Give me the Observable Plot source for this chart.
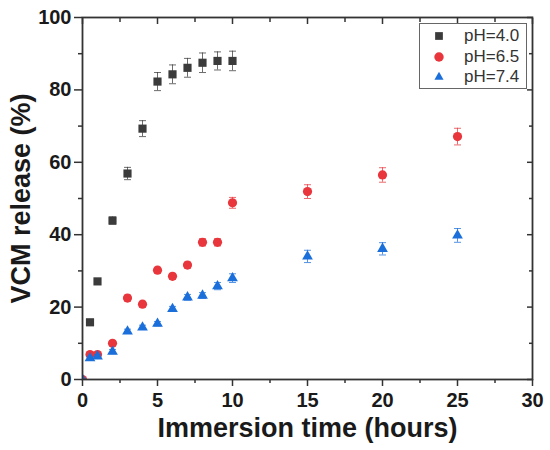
<!DOCTYPE html>
<html>
<head>
<meta charset="utf-8">
<script src="https://cdn.jsdelivr.net/npm/d3@7"></script>
<script src="https://cdn.jsdelivr.net/npm/@observablehq/plot@0.6"></script>
<style>
  body { margin: 0; background: #fff; }
  #wrap { position: relative; width: 550px; height: 450px; font-family: "Liberation Sans", Arial, sans-serif; }
  #legend { position: absolute; left: 419px; top: 23px; width: 108px; height: 66px; border: 1px solid #666; background: #fff; box-sizing: border-box; }
  .row { position: absolute; left: 0; height: 22px; display: flex; align-items: center; font-size: 17px; color: #333; }
  .row svg { margin-left: 12px; margin-right: 18px; }
</style>
</head>
<body>
<div id="wrap"><div id="legend"></div></div>
<script>
// ---- data ----
const seriesNames = ["pH=4.0", "pH=6.5", "pH=7.4"];
const seriesColors = ["#3b3b3b", "#e8363c", "#1b6fdb"];
const seriesSymbols = ["square", "circle", "triangle"];

const time40 = [0.5, 1, 2, 3, 4, 5, 6, 7, 8, 9, 10];
const val40  = [15.8, 27.1, 43.9, 56.9, 69.3, 82.3, 84.3, 86.1, 87.5, 88.0, 88.0];
const err40  = [0.8, 0.8, 1.0, 1.7, 2.2, 2.5, 2.6, 2.6, 2.7, 2.5, 2.7];

const time65 = [0, 0.5, 1, 2, 3, 4, 5, 6, 7, 8, 9, 10, 15, 20, 25];
const val65  = [0, 6.9, 6.9, 10.0, 22.5, 20.8, 30.2, 28.5, 31.6, 37.9, 37.9, 48.8, 51.9, 56.5, 67.1];
const err65  = [0, 0.6, 0.6, 0.7, 0.8, 0.8, 0.8, 0.8, 0.8, 1.0, 1.0, 1.5, 1.9, 2.0, 2.3];

const time74 = [0, 0.5, 1, 2, 3, 4, 5, 6, 7, 8, 9, 10, 15, 20, 25];
const val74  = [0, 5.9, 6.4, 7.7, 13.3, 14.4, 15.4, 19.5, 22.7, 23.2, 25.8, 28.0, 34.0, 36.1, 39.8];
const err74  = [0, 0.5, 0.5, 0.6, 0.6, 0.6, 0.6, 0.7, 0.8, 0.8, 1.0, 1.2, 1.7, 1.7, 1.9];

const xTicks = [0, 5, 10, 15, 20, 25, 30];
const xMinor = [2.5, 7.5, 12.5, 17.5, 22.5, 27.5];
const yTicks = [0, 20, 40, 60, 80, 100];
const yMinor = [10, 30, 50, 70, 90];

const xLabel = "Immersion time (hours)";
const yLabel = "VCM release (%)";

// ---- build rows ----
const mk = (ts, vs, es) => ts.map((t, i) => ({t, v: vs[i], e: es[i]}));
const series = [mk(time40, val40, err40), mk(time65, val65, err65), mk(time74, val74, err74)];

const capSymbol = { draw(ctx) { ctx.moveTo(-3.5, 0); ctx.lineTo(3.5, 0); } };

const seriesMarks = [];
series.forEach((rows, k) => {
  const c = seriesColors[k];
  const withErr = rows.filter(d => d.e > 0);
  seriesMarks.push(
    Plot.ruleX(withErr, {x: "t", y1: d => d.v - d.e, y2: d => d.v + d.e, stroke: c, strokeOpacity: 0.75, strokeWidth: 1}),
    Plot.dot(withErr, {x: "t", y: d => d.v - d.e, symbol: capSymbol, stroke: c, strokeOpacity: 0.75, strokeWidth: 1, fill: "none"}),
    Plot.dot(withErr, {x: "t", y: d => d.v + d.e, symbol: capSymbol, stroke: c, strokeOpacity: 0.75, strokeWidth: 1, fill: "none"}),
    Plot.dot(rows, {x: "t", y: "v", symbol: seriesSymbols[k], fill: c, r: k === 2 ? 4 : 4.6, clip: true})
  );
});

const axisStyle = {stroke: "#333", strokeWidth: 1.5};
const chart = Plot.plot({
  width: 550, height: 450,
  marginLeft: 82, marginRight: 18, marginTop: 17, marginBottom: 71,
  x: {domain: [0, 30]},
  y: {domain: [0, 100]},
  style: {fontFamily: "'Liberation Sans', Arial, sans-serif", color: "#1a1a1a", background: "transparent"},
  marks: [
    ...seriesMarks,
    Plot.axisX(xTicks, {anchor: "bottom", tickSize: 7, tickPadding: 6, fontSize: 20, fontWeight: "bold", label: null, ...axisStyle}),
    Plot.axisX(xMinor, {anchor: "bottom", tickSize: 4, tickFormat: () => "", label: null, ...axisStyle}),
    Plot.axisX(xTicks, {anchor: "top", tickSize: -6, tickFormat: () => "", label: null, ...axisStyle}),
    Plot.axisX(xMinor, {anchor: "top", tickSize: -4, tickFormat: () => "", label: null, ...axisStyle}),
    Plot.axisY(yTicks, {anchor: "left", tickSize: 8, tickPadding: 3, fontSize: 20, fontWeight: "bold", label: null, ...axisStyle}),
    Plot.axisY(yMinor, {anchor: "left", tickSize: 4, tickFormat: () => "", label: null, ...axisStyle}),
    Plot.axisY(yTicks, {anchor: "right", tickSize: -6, tickFormat: () => "", label: null, ...axisStyle}),
    Plot.axisY(yMinor, {anchor: "right", tickSize: -4, tickFormat: () => "", label: null, ...axisStyle}),
    Plot.frame({stroke: "#333", strokeWidth: 1.8}),
    Plot.text([xLabel], {text: d => d, frameAnchor: "bottom", textAnchor: "middle", dy: 57, fontSize: 27, fontWeight: "bold", fill: "#1a1a1a"}),
    Plot.text([yLabel], {text: d => d, frameAnchor: "left", textAnchor: "middle", dx: -61, rotate: -90, fontSize: 27, fontWeight: "bold", fill: "#1a1a1a"})
  ]
});
document.getElementById("wrap").prepend(chart);

// ---- legend ----
const legend = document.getElementById("legend");
seriesNames.forEach((name, k) => {
  const row = document.createElement("div");
  row.className = "row";
  row.style.top = (1 + k * 20.5) + "px";
  const sym = d3.symbol(k === 0 ? d3.symbolSquare : k === 1 ? d3.symbolCircle : d3.symbolTriangle2, k === 0 ? 60 : k === 1 ? 70 : 60)();
  row.innerHTML = `<svg width="14" height="14" viewBox="-7 -7 14 14"><path d="${sym}" fill="${seriesColors[k]}"/></svg><span>${name}</span>`;
  legend.appendChild(row);
});
</script>
</body>
</html>
